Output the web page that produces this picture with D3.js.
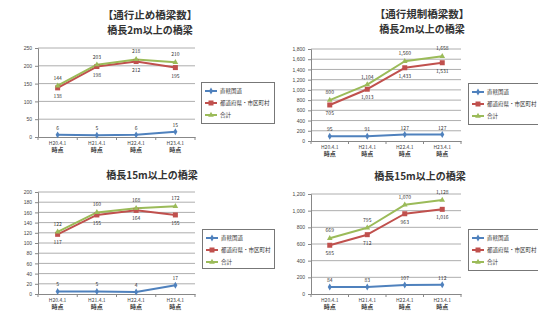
<!DOCTYPE html>
<html>
<head>
<meta charset="utf-8">
<script src="https://cdn.jsdelivr.net/npm/d3@7"></script>
<style>
body{margin:0;background:#fff;}
svg{display:block;font-family:"Noto Sans CJK JP","Noto Sans",sans-serif;}
</style>
</head>
<body>
<svg id="chart" width="538" height="323"></svg>
<script>
// data
const categories=["H20.4.1","H21.4.1","H22.4.1","H23.4.1"];
const seriesNames=["直轄国道","都道府県・市区町村","合計"];

const closed2mKuni=[6,5,6,15];
const closed2mPref=[138,198,212,195];
const closed2mTotal=[144,203,218,210];
const closed2mTicks=[0,50,100,150,200,250];

const restrict2mKuni=[95,91,127,127];
const restrict2mPref=[705,1013,1433,1531];
const restrict2mTotal=[800,1104,1560,1658];
const restrict2mTicks=[0,200,400,600,800,1000,1200,1400,1600,1800];

const closed15mKuni=[5,5,4,17];
const closed15mPref=[117,155,164,155];
const closed15mTotal=[122,160,168,172];
const closed15mTicks=[0,20,40,60,80,100,120,140,160,180,200];

const restrict15mKuni=[84,83,107,112];
const restrict15mPref=[585,712,963,1016];
const restrict15mTotal=[669,795,1070,1128];
const restrict15mTicks=[0,200,400,600,800,1000,1200];

const colors=["#4F81BD","#C0504D","#9BBB59"];
const fmt=d3.format(",");
const svg=d3.select("#chart");

function marker(g,i,x,y){
  if(i===0){
    g.append("path").attr("d",d3.symbol(d3.symbolDiamond,14)()).attr("transform",`translate(${x},${y})`).attr("fill",colors[0]);
  }else if(i===1){
    g.append("rect").attr("x",x-2.5).attr("y",y-2.5).attr("width",5).attr("height",5).attr("fill",colors[1]);
  }else{
    g.append("path").attr("d",d3.symbol(d3.symbolTriangle,14)()).attr("transform",`translate(${x},${y})`).attr("fill",colors[2]);
  }
}

function drawPanel(p){
  const g=svg.append("g");
  const x=d3.scaleBand().domain(categories).range([p.left,p.right]);
  const y=d3.scaleLinear().domain([0,d3.max(p.ticks)]).range([p.bottom,p.top]);

  // gridlines
  g.selectAll(".grid").data(p.ticks.slice(1)).enter().append("line")
    .attr("x1",p.left).attr("x2",p.right)
    .attr("y1",d=>y(d)).attr("y2",d=>y(d))
    .attr("stroke","#999").attr("stroke-width",0.8);

  const ya=g.append("g").attr("transform",`translate(${p.left},0)`)
    .call(d3.axisLeft(y).tickValues(p.ticks).tickFormat(fmt).tickSize(3).tickPadding(3));
  ya.select(".domain").attr("stroke","#888");
  ya.selectAll("line").attr("stroke","#888");
  ya.selectAll("text").attr("font-size","5px").attr("fill","#444");

  const xa=g.append("g").attr("transform",`translate(0,${p.bottom})`)
    .call(d3.axisBottom(x).tickSize(0).tickFormat(""));
  xa.select(".domain").attr("stroke","#888");
  // tick marks between categories
  g.selectAll(".xt").data(categories.concat([null])).enter().append("line")
    .attr("x1",(d,i)=>p.left+i*x.step()).attr("x2",(d,i)=>p.left+i*x.step())
    .attr("y1",p.bottom).attr("y2",p.bottom+3).attr("stroke","#888");
  categories.forEach(c=>{
    const t=g.append("text").attr("x",x(c)+x.bandwidth()/2).attr("y",p.bottom+8)
      .attr("text-anchor","middle").attr("font-size","5px").attr("fill","#444");
    t.append("tspan").attr("x",x(c)+x.bandwidth()/2).text(c);
    t.append("tspan").attr("x",x(c)+x.bandwidth()/2).attr("dy",7).attr("font-size","6px").attr("font-weight","bold").text("時点");
  });

  const cx=c=>x(c)+x.bandwidth()/2;
  const series=[p.kuni,p.pref,p.total];
  const line=d3.line().x((d,i)=>cx(categories[i])).y(d=>y(d));
  [0,1,2].forEach(si=>{
    g.append("path").datum(series[si]).attr("d",line)
      .attr("fill","none").attr("stroke",colors[si]).attr("stroke-width",2)
      .attr("stroke-linejoin","round");
  });
  [0,1,2].forEach(si=>{
    series[si].forEach((v,i)=>marker(g,si,cx(categories[i]),y(v)));
  });
  // data labels
  const lab=(arr,dy)=>arr.forEach((v,i)=>{
    g.append("text").attr("x",cx(categories[i])).attr("y",y(v)+dy)
      .attr("text-anchor","middle").attr("font-size","5px").attr("fill","#333").text(fmt(v));
  });
  lab(p.kuni,-5);
  lab(p.total,-6);
  lab(p.pref,10);

  // titles
  if(p.title){
    svg.append("text").attr("x",p.tx).attr("y",p.ty-15).attr("text-anchor","middle")
      .attr("font-size","10.5px").attr("font-weight","bold").attr("fill","#333").text(p.title);
  }
  svg.append("text").attr("x",p.tx).attr("y",p.ty).attr("text-anchor","middle")
    .attr("font-size","10px").attr("font-weight","bold").attr("fill","#333").text(p.sub);

  // legend
  const lg=svg.append("g");
  const clipId="clip"+p.id;
  svg.append("clipPath").attr("id",clipId).append("rect")
    .attr("x",p.lx).attr("y",p.ly).attr("width",p.lw).attr("height",p.lh);
  lg.attr("clip-path",`url(#${clipId})`);
  lg.append("rect").attr("x",p.lx+0.5).attr("y",p.ly+0.5).attr("width",p.lw-1).attr("height",p.lh-1)
    .attr("fill","#fff").attr("stroke","#777").attr("stroke-width",1);
  seriesNames.forEach((n,i)=>{
    const yy=p.ly+9+i*12;
    lg.append("line").attr("x1",p.lx+4).attr("x2",p.lx+16).attr("y1",yy).attr("y2",yy)
      .attr("stroke",colors[i]).attr("stroke-width",2);
    marker(lg,i,p.lx+10,yy);
    lg.append("text").attr("x",p.lx+19).attr("y",yy+2).attr("font-size","5.5px").attr("fill","#333").text(n);
  });
}

drawPanel({id:1,left:38,right:195,top:48,bottom:137,ticks:closed2mTicks,
  kuni:closed2mKuni,pref:closed2mPref,total:closed2mTotal,
  title:"【通行止め橋梁数】",sub:"橋長2m以上の橋梁",tx:150,ty:34,
  lx:201,ly:82,lw:74,lh:42});
drawPanel({id:2,left:311,right:461,top:49,bottom:141,ticks:restrict2mTicks,
  kuni:restrict2mKuni,pref:restrict2mPref,total:restrict2mTotal,
  title:"【通行規制橋梁数】",sub:"橋長2m以上の橋梁",tx:422,ty:33,
  lx:468,ly:83,lw:72,lh:42});
drawPanel({id:3,left:38,right:195,top:192,bottom:294,ticks:closed15mTicks,
  kuni:closed15mKuni,pref:closed15mPref,total:closed15mTotal,
  sub:"橋長15m以上の橋梁",tx:152,ty:179,
  lx:202,ly:229,lw:73,lh:40});
drawPanel({id:4,left:311,right:461,top:194,bottom:294,ticks:restrict15mTicks,
  kuni:restrict15mKuni,pref:restrict15mPref,total:restrict15mTotal,
  sub:"橋長15m以上の橋梁",tx:420,ty:180,
  lx:468,ly:229,lw:72,lh:42});
</script>
</body>
</html>
